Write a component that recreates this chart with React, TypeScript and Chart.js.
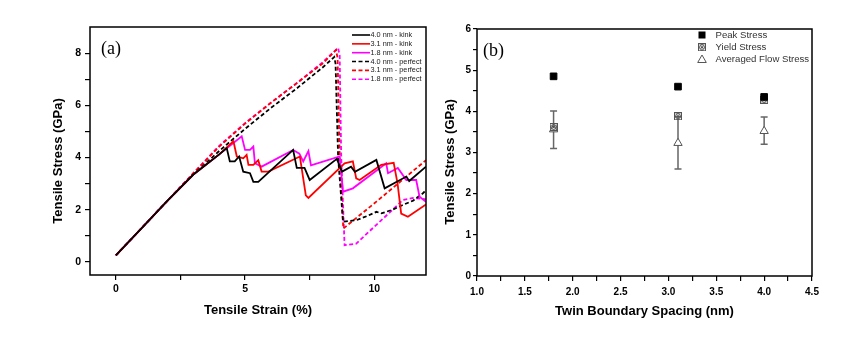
import React, { useEffect, useRef } from 'react';
import { Chart, registerables } from 'chart.js';

Chart.register(...registerables);

// ---------- Panel (a): stress-strain curves ----------
const kink40Strain = [0, 1, 2, 3, 4, 4.29, 4.41, 4.6, 4.77, 4.93, 5.19, 5.32, 5.51, 6.86, 7.0, 7.3, 7.5, 8.55, 8.75, 9.1, 9.25, 10.08, 10.4, 11.24, 11.35, 12];
const kink40Stress = [0.25, 1.3, 2.35, 3.35, 4.12, 4.36, 3.85, 3.85, 4.04, 3.46, 3.4, 3.07, 3.07, 4.29, 3.6, 3.6, 3.14, 3.95, 3.46, 3.65, 3.45, 3.91, 2.82, 3.27, 3.1, 3.65];

const kink31Strain = [0, 1, 2, 3, 4, 4.55, 4.68, 4.93, 5.06, 5.13, 5.32, 5.51, 5.64, 5.9, 7.12, 7.35, 7.45, 8.85, 9.17, 9.3, 9.43, 10.27, 10.75, 10.9, 11.04, 11.3, 12];
const kink31Stress = [0.25, 1.3, 2.35, 3.35, 4.12, 4.62, 4.04, 3.97, 4.1, 3.72, 3.72, 3.9, 3.46, 3.46, 4.04, 2.55, 2.45, 3.78, 3.85, 3.2, 3.14, 3.72, 3.8, 3.0, 1.85, 1.73, 2.2];

const kink18Strain = [0, 1, 2, 3, 4, 4.87, 5.0, 5.19, 5.32, 5.38, 5.64, 6.86, 7.1, 7.25, 7.45, 7.55, 8.66, 8.79, 9.17, 10.46, 10.53, 10.91, 11.24, 11.62, 11.75, 12];
const kink18Stress = [0.25, 1.3, 2.35, 3.35, 4.12, 4.81, 4.29, 4.29, 4.42, 3.78, 3.65, 4.29, 4.15, 3.85, 4.25, 3.7, 4.04, 2.69, 2.82, 3.78, 3.4, 3.6, 3.14, 3.14, 2.5, 2.3];

const perfect40Strain = [0, 1, 2, 3, 4, 5, 6, 7, 8, 8.45, 8.5, 8.6, 8.79, 9.3, 9.7, 10.08, 10.27, 10.7, 11.1, 11.5, 11.88, 12];
const perfect40Stress = [0.25, 1.3, 2.35, 3.35, 4.25, 5.1, 5.9, 6.65, 7.45, 7.85, 7.6, 4.0, 1.54, 1.6, 1.75, 1.92, 1.86, 2.0, 2.18, 2.35, 2.63, 2.75];

const perfect31Strain = [0, 1, 2, 3, 4, 5, 6, 7, 8, 8.52, 8.58, 8.66, 8.8, 10.08, 12];
const perfect31Stress = [0.25, 1.3, 2.35, 3.4, 4.42, 5.3, 6.1, 6.85, 7.6, 8.12, 7.8, 4.0, 1.28, 2.31, 3.9];

const perfect18Strain = [0, 1, 2, 3, 4, 5, 6, 7, 8, 8.6, 8.66, 8.72, 8.85, 9.3, 10.0, 10.6, 11.1, 11.5, 12];
const perfect18Stress = [0.25, 1.3, 2.35, 3.4, 4.45, 5.32, 6.1, 6.85, 7.65, 8.2, 7.9, 4.0, 0.64, 0.7, 1.35, 1.9, 2.37, 2.45, 2.4];

const seriesLabelsA = ['4.0 nm - kink', '3.1 nm - kink', '1.8 nm - kink', '4.0 nm - perfect', '3.1 nm - perfect', '1.8 nm - perfect'];
const xTicksA = [0, 2.5, 5, 7.5, 10];
const yTicksA = [0, 1, 2, 3, 4, 5, 6, 7, 8];

// ---------- Panel (b): stress vs twin boundary spacing ----------
const spacing = [1.8, 3.1, 4.0];
const peakStress = [4.85, 4.6, 4.35];
const yieldStress = [3.62, 3.88, 4.28];
const flowStress = [3.56, 3.23, 3.52];
const flowLow = [3.1, 2.6, 3.2];
const flowHigh = [4.01, 3.87, 3.86];
const seriesLabelsB = ['Peak Stress', 'Yield Stress', 'Averaged Flow Stress'];
const xTicksB = [1.0, 1.25, 1.5, 1.75, 2.0, 2.25, 2.5, 2.75, 3.0, 3.25, 3.5, 3.75, 4.0, 4.25, 4.5];
const yTicksB = [0, 0.5, 1, 1.5, 2, 2.5, 3, 3.5, 4, 4.5, 5, 5.5, 6];

const SANS = '"Liberation Sans", Arial, Helvetica, sans-serif';
const SERIF = '"Liberation Serif", "Times New Roman", serif';

const pts = (xs: number[], ys: number[]) => xs.map((x, i) => ({ x, y: ys[i] }));

function makeYieldMarker(size: number): HTMLCanvasElement {
  const c = document.createElement('canvas');
  c.width = size;
  c.height = size;
  const g = c.getContext('2d')!;
  g.strokeStyle = '#555';
  g.lineWidth = 1;
  g.strokeRect(0.5, 0.5, size - 1, size - 1);
  g.beginPath();
  g.arc(size / 2, size / 2, size / 2 - 1.5, 0, Math.PI * 2);
  g.stroke();
  g.beginPath();
  g.moveTo(2, 2);
  g.lineTo(size - 2, size - 2);
  g.moveTo(size - 2, 2);
  g.lineTo(2, size - 2);
  g.stroke();
  return c;
}

function lineDs(label: string, xs: number[], ys: number[], color: string, dashed: boolean) {
  return {
    label,
    data: pts(xs, ys),
    showLine: true,
    borderColor: color,
    backgroundColor: color,
    borderWidth: 1.8,
    borderDash: dashed ? [4, 2.5] : [],
    pointRadius: 0,
    tension: 0,
    fill: false,
  };
}

export default function App() {
  const refA = useRef<HTMLCanvasElement>(null);
  const refB = useRef<HTMLCanvasElement>(null);

  useEffect(() => {
    const tickFontA = { family: SANS, size: 10.5, weight: 'bold' as const };
    const tickFontB = { family: SANS, size: 10, weight: 'bold' as const };
    const titleFont = { family: SANS, size: 13, weight: 'bold' as const };

    const frameAndLabels = (tag: string, tagDx: number, yTitle: string, yTitleX: number, yTitleY: number) => ({
      id: 'frame' + tag,
      afterDraw(chart: any) {
        const { ctx, chartArea: a } = chart;
        ctx.save();
        ctx.strokeStyle = '#000';
        ctx.lineWidth = 1.5;
        ctx.strokeRect(a.left, a.top, a.right - a.left, a.bottom - a.top);
        ctx.fillStyle = '#000';
        ctx.font = `18px ${SERIF}`;
        ctx.textAlign = 'left';
        ctx.textBaseline = 'middle';
        ctx.fillText(tag, a.left + tagDx, a.top + 22);
        ctx.font = `bold 13px ${SANS}`;
        ctx.translate(yTitleX, yTitleY);
        ctx.rotate(-Math.PI / 2);
        ctx.textAlign = 'center';
        ctx.fillText(yTitle, 0, 0);
        ctx.restore();
      },
    });

    const legendA = {
      id: 'legendA',
      afterDraw(chart: any) {
        const { ctx } = chart;
        ctx.save();
        ctx.font = `7.3px ${SANS}`;
        ctx.textBaseline = 'middle';
        ctx.textAlign = 'left';
        chart.data.datasets.forEach((ds: any, i: number) => {
          const y = 35 + i * 8.85;
          ctx.strokeStyle = ds.borderColor;
          ctx.lineWidth = 1.6;
          ctx.setLineDash(ds.borderDash || []);
          ctx.beginPath();
          ctx.moveTo(352, y);
          ctx.lineTo(370, y);
          ctx.stroke();
          ctx.setLineDash([]);
          ctx.fillStyle = '#222';
          ctx.fillText(ds.label, 370.5, y);
        });
        ctx.restore();
      },
    };

    const chartA = new Chart(refA.current!, {
      type: 'scatter',
      data: {
        datasets: [
          lineDs(seriesLabelsA[0], kink40Strain, kink40Stress, '#000000', false),
          lineDs(seriesLabelsA[1], kink31Strain, kink31Stress, '#ff0000', false),
          lineDs(seriesLabelsA[2], kink18Strain, kink18Stress, '#ff00ff', false),
          lineDs(seriesLabelsA[3], perfect40Strain, perfect40Stress, '#000000', true),
          lineDs(seriesLabelsA[4], perfect31Strain, perfect31Stress, '#ff0000', true),
          lineDs(seriesLabelsA[5], perfect18Strain, perfect18Stress, '#ff00ff', true),
        ],
      },
      options: {
        animation: false,
        responsive: false,
        layout: { padding: { top: 27, right: 14, left: 0, bottom: 0 } },
        plugins: { legend: { display: false }, tooltip: { enabled: false } },
        scales: {
          x: {
            type: 'linear',
            min: -1,
            max: 12,
            afterBuildTicks: (s: any) => { s.ticks = xTicksA.map((v) => ({ value: v })); },
            afterFit: (s: any) => { s.height = 74; },
            ticks: {
              autoSkip: false,
              maxRotation: 0,
              padding: 3,
              color: '#000',
              font: tickFontA,
              callback: (v: any) => (Number(v) % 5 === 0 ? String(v) : ''),
            },
            grid: { display: true, drawOnChartArea: false, drawTicks: true, tickLength: 5, color: '#000', lineWidth: 1.2 },
            border: { display: false },
            title: { display: true, text: 'Tensile Strain (%)', color: '#000', font: titleFont, padding: { top: 0, bottom: 31 } },
          },
          y: {
            type: 'linear',
            min: -0.5,
            max: 9,
            afterBuildTicks: (s: any) => { s.ticks = yTicksA.map((v) => ({ value: v })); },
            afterFit: (s: any) => { s.width = 90; },
            ticks: {
              autoSkip: false,
              padding: 4,
              color: '#000',
              font: tickFontA,
              callback: (v: any) => (Number(v) % 2 === 0 ? String(v) : ''),
            },
            grid: { display: true, drawOnChartArea: false, drawTicks: true, tickLength: 5, color: '#000', lineWidth: 1.2 },
            border: { display: false },
            title: { display: false },
          },
        },
      } as any,
      plugins: [frameAndLabels('(a)', 11, 'Tensile Stress (GPa)', 58, 161), legendA],
    });

    const yieldImg = makeYieldMarker(8);

    const errorBars = {
      id: 'errorBars',
      beforeDatasetsDraw(chart: any) {
        const { ctx, scales } = chart;
        ctx.save();
        ctx.strokeStyle = '#666';
        ctx.lineWidth = 1.5;
        spacing.forEach((s, i) => {
          const x = scales.x.getPixelForValue(s);
          const y1 = scales.y.getPixelForValue(flowLow[i]);
          const y2 = scales.y.getPixelForValue(flowHigh[i]);
          ctx.beginPath();
          ctx.moveTo(x, y1);
          ctx.lineTo(x, y2);
          ctx.moveTo(x - 3.5, y1);
          ctx.lineTo(x + 3.5, y1);
          ctx.moveTo(x - 3.5, y2);
          ctx.lineTo(x + 3.5, y2);
          ctx.stroke();
        });
        ctx.restore();
      },
    };

    const legendB = {
      id: 'legendB',
      afterDraw(chart: any) {
        const { ctx } = chart;
        ctx.save();
        ctx.font = `9.6px ${SANS}`;
        ctx.textBaseline = 'middle';
        ctx.textAlign = 'left';
        const mx = 262;
        const rows = [35, 47.3, 59.5];
        ctx.fillStyle = '#000';
        ctx.fillRect(mx - 3.5, rows[0] - 3.5, 7, 7);
        ctx.drawImage(yieldImg, mx - 4, rows[1] - 4);
        ctx.beginPath();
        ctx.moveTo(mx, rows[2] - 4.5);
        ctx.lineTo(mx + 4.3, rows[2] + 3);
        ctx.lineTo(mx - 4.3, rows[2] + 3);
        ctx.closePath();
        ctx.fillStyle = '#fff';
        ctx.fill();
        ctx.strokeStyle = '#555';
        ctx.lineWidth = 1;
        ctx.stroke();
        ctx.fillStyle = '#333';
        seriesLabelsB.forEach((t, i) => ctx.fillText(t, 275.5, rows[i]));
        ctx.restore();
      },
    };

    const chartB = new Chart(refB.current!, {
      type: 'scatter',
      data: {
        datasets: [
          {
            label: seriesLabelsB[0],
            data: pts(spacing, peakStress),
            pointStyle: 'rect',
            pointRadius: 4.7,
            backgroundColor: '#000',
            borderColor: '#000',
            borderWidth: 1,
          },
          {
            label: seriesLabelsB[1],
            data: pts(spacing, yieldStress),
            pointStyle: yieldImg,
            pointRadius: 4,
          },
          {
            label: seriesLabelsB[2],
            data: pts(spacing, flowStress),
            pointStyle: 'triangle',
            pointRadius: 4.8,
            backgroundColor: '#fff',
            borderColor: '#555',
            borderWidth: 1,
          },
        ],
      },
      options: {
        animation: false,
        responsive: false,
        layout: { padding: { top: 29, right: 52, left: 0, bottom: 0 } },
        plugins: { legend: { display: false }, tooltip: { enabled: false } },
        scales: {
          x: {
            type: 'linear',
            min: 1,
            max: 4.5,
            afterBuildTicks: (s: any) => { s.ticks = xTicksB.map((v) => ({ value: v })); },
            afterFit: (s: any) => { s.height = 73; },
            ticks: {
              autoSkip: false,
              maxRotation: 0,
              padding: 5,
              color: '#000',
              font: tickFontB,
              callback: (v: any) => (Math.abs(Number(v) * 2 - Math.round(Number(v) * 2)) < 1e-6 ? Number(v).toFixed(1) : ''),
            },
            grid: { display: true, drawOnChartArea: false, drawTicks: true, tickLength: 5, color: '#000', lineWidth: 1.2 },
            border: { display: false },
            title: { display: true, text: 'Twin Boundary Spacing (nm)', color: '#000', font: titleFont, padding: { top: 0, bottom: 30 } },
          },
          y: {
            type: 'linear',
            min: 0,
            max: 6,
            afterBuildTicks: (s: any) => { s.ticks = yTicksB.map((v) => ({ value: v })); },
            afterFit: (s: any) => { s.width = 37; },
            ticks: {
              autoSkip: false,
              padding: 2,
              color: '#000',
              font: tickFontB,
              callback: (v: any) => (Number.isInteger(Number(v)) ? String(v) : ''),
            },
            grid: { display: true, drawOnChartArea: false, drawTicks: true, tickLength: 4, color: '#000', lineWidth: 1.2 },
            border: { display: false },
            title: { display: false },
          },
        },
      } as any,
      plugins: [frameAndLabels('(b)', 6, 'Tensile Stress (GPa)', 10, 162), errorBars, legendB],
    });

    return () => {
      chartA.destroy();
      chartB.destroy();
    };
  }, []);

  return (
    <div style={{ position: 'absolute', left: 0, top: 0, width: 864, height: 349, background: '#fff' }}>
      <canvas ref={refA} width={440} height={349} style={{ position: 'absolute', left: 0, top: 0, width: 440, height: 349 }} />
      <canvas ref={refB} width={424} height={349} style={{ position: 'absolute', left: 440, top: 0, width: 424, height: 349 }} />
    </div>
  );
}
